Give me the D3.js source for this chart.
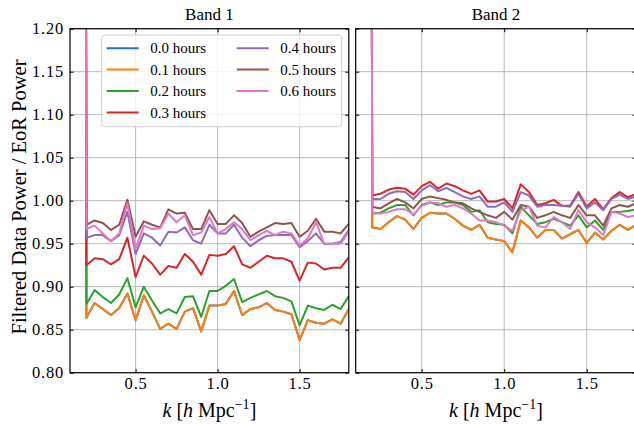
<!DOCTYPE html>
<html><head><meta charset="utf-8">
<script src="https://cdn.jsdelivr.net/npm/d3@7"></script>
<style>
html,body{margin:0;padding:0;background:#fff;}
svg{display:block;font-family:"Liberation Serif","Times New Roman",serif;}
</style></head>
<body>
<svg id="chart" width="634" height="424"></svg>
<script>
// ---------- data ----------
const kValues = [0.2,0.25,0.3,0.35,0.4,0.45,0.5,0.55,0.6,0.65,0.7,0.75,0.8,0.85,0.9,0.95,
  1.0,1.05,1.1,1.15,1.2,1.25,1.3,1.35,1.4,1.45,1.5,1.55,1.6,1.65,1.7,1.75,1.8];
// first (off-scale) point of every series
const spikeK = 0.195;
const spikeValue = 1.6;

const seriesLabels = ["0.0 hours","0.1 hours","0.2 hours","0.3 hours","0.4 hours","0.5 hours","0.6 hours"];
const seriesColors = ["#1f77b4","#ff7f0e","#2ca02c","#d62728","#9467bd","#8c564b","#e377c2"];

// Band 1
const band1_h00 = [0.864,0.881,0.874,0.867,0.875,0.892,0.861,0.890,0.871,0.851,0.857,0.851,0.871,0.875,0.848,0.878,
  0.878,0.880,0.895,0.867,0.874,0.876,0.881,0.873,0.871,0.868,0.838,0.861,0.858,0.857,0.862,0.857,0.874];
const band1_h01 = [0.864,0.881,0.874,0.867,0.875,0.892,0.861,0.890,0.871,0.851,0.857,0.851,0.871,0.875,0.848,0.878,
  0.878,0.880,0.895,0.867,0.874,0.876,0.881,0.873,0.871,0.868,0.838,0.861,0.858,0.857,0.862,0.857,0.874];
const band1_h02 = [0.880,0.896,0.888,0.881,0.891,0.910,0.876,0.900,0.884,0.869,0.874,0.869,0.888,0.889,0.865,0.895,
  0.895,0.901,0.909,0.882,0.887,0.891,0.895,0.889,0.887,0.883,0.855,0.878,0.875,0.873,0.879,0.874,0.889];
const band1_h03 = [0.925,0.933,0.932,0.926,0.932,0.957,0.911,0.936,0.927,0.914,0.924,0.922,0.938,0.929,0.914,0.937,
  0.936,0.938,0.947,0.926,0.922,0.929,0.936,0.933,0.933,0.929,0.907,0.928,0.927,0.920,0.922,0.922,0.934];
const band1_h04 = [0.957,0.960,0.960,0.953,0.960,0.987,0.938,0.962,0.957,0.948,0.964,0.963,0.969,0.954,0.950,0.972,
  0.962,0.962,0.972,0.957,0.947,0.954,0.959,0.960,0.960,0.960,0.946,0.953,0.962,0.950,0.950,0.952,0.966];
const band1_h05 = [0.972,0.977,0.974,0.966,0.972,1.001,0.958,0.976,0.972,0.969,0.990,0.985,0.986,0.967,0.967,0.989,
  0.973,0.973,0.983,0.974,0.958,0.964,0.969,0.974,0.973,0.974,0.958,0.965,0.979,0.964,0.964,0.962,0.973];
const band1_h06 = [0.967,0.971,0.962,0.953,0.962,0.997,0.944,0.971,0.967,0.968,0.985,0.975,0.983,0.960,0.963,0.981,
  0.962,0.967,0.975,0.967,0.954,0.960,0.965,0.960,0.964,0.962,0.948,0.956,0.975,0.950,0.950,0.950,0.964];

// Band 2
const band2_h00 = [0.969,0.967,0.975,0.982,0.978,0.967,0.980,0.986,0.985,0.985,0.979,0.971,0.966,0.972,0.957,0.955,
  0.953,0.940,0.977,0.969,0.957,0.966,0.966,0.956,0.961,0.966,0.951,0.963,0.955,0.965,0.972,0.966,0.972];
const band2_h01 = [0.969,0.967,0.975,0.982,0.978,0.967,0.980,0.986,0.985,0.985,0.979,0.971,0.966,0.972,0.957,0.955,
  0.953,0.940,0.977,0.969,0.957,0.966,0.966,0.956,0.961,0.966,0.951,0.963,0.955,0.965,0.972,0.966,0.972];
const band2_h02 = [0.985,0.986,0.991,0.995,0.995,0.983,0.995,0.998,0.995,0.998,0.998,0.995,0.987,0.989,0.975,0.973,
  0.972,0.962,0.993,0.983,0.973,0.975,0.979,0.975,0.971,0.983,0.969,0.977,0.966,0.987,0.987,0.988,0.990];
const band2_h03 = [1.006,1.008,1.013,1.015,1.014,1.007,1.017,1.022,1.014,1.020,1.017,1.012,1.008,1.012,0.999,0.999,
  1.002,0.991,1.019,1.010,0.995,0.997,1.001,0.994,0.994,1.010,0.993,1.002,0.990,1.003,1.010,1.004,1.008];
const band2_h04 = [1.002,1.002,1.008,1.011,1.010,1.002,1.012,1.018,1.011,1.015,1.010,1.005,1.002,1.005,0.993,0.993,
  0.998,0.987,1.010,1.006,0.993,0.995,0.995,0.994,0.993,1.008,0.991,0.998,0.989,1.002,1.007,1.002,1.005];
const band2_h05 = [0.993,0.991,0.997,1.002,0.998,0.991,1.002,1.005,1.003,1.001,0.998,0.997,0.991,0.987,0.983,0.980,
  0.987,0.978,0.995,0.993,0.980,0.983,0.987,0.983,0.980,0.995,0.983,0.983,0.971,0.991,0.995,0.993,0.997];
const band2_h06 = [0.985,0.985,0.987,0.990,0.990,0.984,0.994,0.998,0.997,0.993,0.995,0.991,0.985,0.977,0.977,0.975,
  0.971,0.965,0.989,0.993,0.971,0.969,0.981,0.975,0.967,0.989,0.975,0.969,0.960,0.987,0.985,0.981,0.983];

const xTicks = [0.5,1.0,1.5];
const yTicks = [0.80,0.85,0.90,0.95,1.00,1.05,1.10,1.15,1.20];
const panelTitles = ["Band 1","Band 2"];

// ---------- drawing ----------
(function(){
const bands = [
  [band1_h00,band1_h01,band1_h02,band1_h03,band1_h04,band1_h05,band1_h06],
  [band2_h00,band2_h01,band2_h02,band2_h03,band2_h04,band2_h05,band2_h06]
];
const svg = d3.select("#chart");
const yTop = 28.7, yBottom = 372.7;
const y = d3.scaleLinear().domain([0.8,1.2]).range([yBottom, yTop]);
const panels = [
  {x: d3.scaleLinear().domain([0.1,1.8]).range([70,348.8])},
  {x: d3.scaleLinear().domain([0.1,1.8]).range([355.7,636.2])}
];
const tickLen = 3.5;

panels.forEach((p, pi) => {
  const x = p.x;
  const [x0, x1] = x.range();
  const g = svg.append("g");
  const clipId = "clip" + pi;
  svg.append("clipPath").attr("id", clipId).append("rect")
    .attr("x", x0).attr("y", yTop).attr("width", x1 - x0).attr("height", yBottom - yTop);

  // grid
  g.append("g").selectAll("line").data(xTicks).join("line")
    .attr("x1", d => x(d)).attr("x2", d => x(d)).attr("y1", yTop).attr("y2", yBottom)
    .attr("stroke", "#b0b0b0").attr("stroke-width", 0.9);
  g.append("g").selectAll("line").data(yTicks).join("line")
    .attr("x1", x0).attr("x2", x1).attr("y1", d => y(d)).attr("y2", d => y(d))
    .attr("stroke", "#b0b0b0").attr("stroke-width", 0.9);

  // series
  const line = d3.line().x(d => x(d[0])).y(d => y(d[1]));
  const lg = g.append("g").attr("clip-path", `url(#${clipId})`);
  bands[pi].forEach((vals, si) => {
    const pts = [[spikeK, spikeValue]].concat(kValues.map((k, i) => [k, vals[i]]));
    lg.append("path").datum(pts).attr("d", line)
      .attr("fill", "none").attr("stroke", seriesColors[si])
      .attr("stroke-width", 2).attr("stroke-linejoin", "round").attr("stroke-linecap", "butt");
  });

  // axes (ticks inward on all sides)
  const fmtX = d3.format(".1f"), fmtY = d3.format(".2f");
  const axB = g.append("g").attr("transform", `translate(0,${yBottom})`)
    .call(d3.axisBottom(x).tickValues(xTicks).tickSize(-tickLen).tickPadding(5).tickFormat(fmtX));
  const axT = g.append("g").attr("transform", `translate(0,${yTop})`)
    .call(d3.axisTop(x).tickValues(xTicks).tickSize(-tickLen).tickFormat(""));
  const axL = g.append("g").attr("transform", `translate(${x0},0)`)
    .call(d3.axisLeft(y).tickValues(yTicks).tickSize(-tickLen).tickPadding(6).tickFormat(pi === 0 ? fmtY : ""));
  const axR = g.append("g").attr("transform", `translate(${x1},0)`)
    .call(d3.axisRight(y).tickValues(yTicks).tickSize(-tickLen).tickFormat(""));
  [axB, axT, axL, axR].forEach(a => {
    a.select(".domain").remove();
    a.selectAll("line").attr("stroke", "#000").attr("stroke-width", 1);
    a.selectAll("text").attr("font-family", "Liberation Serif, serif").attr("font-size", 16.5)
      .attr("letter-spacing", 0.8).attr("fill", "#000");
  });
  // frame
  g.append("rect").attr("x", x0).attr("y", yTop).attr("width", x1 - x0).attr("height", yBottom - yTop)
    .attr("fill", "none").attr("stroke", "#000").attr("stroke-width", 1.2);

  // title
  g.append("text").attr("x", (x0 + x1) / 2).attr("y", 20)
    .attr("text-anchor", "middle").attr("font-size", 17).text(panelTitles[pi]);

  // x label
  const xl = g.append("text").attr("x", (x0 + x1) / 2).attr("y", 417)
    .attr("text-anchor", "middle").attr("font-size", 20);
  xl.append("tspan").attr("font-style", "italic").text("k");
  xl.append("tspan").text(" [");
  xl.append("tspan").attr("font-style", "italic").text("h");
  xl.append("tspan").text(" Mpc");
  xl.append("tspan").attr("font-size", 14).attr("dy", -8).text("\u22121");
  xl.append("tspan").attr("dy", 8).text("]");
});

// y label
svg.append("text").attr("transform", "translate(26,197) rotate(-90)")
  .attr("text-anchor", "middle").attr("font-size", 20.5)
  .text("Filtered Data Power / EoR Power");

// legend
const leg = svg.append("g");
leg.append("rect").attr("x", 101.7).attr("y", 35).attr("width", 240).attr("height", 91.7)
  .attr("rx", 3).attr("fill", "#fff").attr("fill-opacity", 0.8)
  .attr("stroke", "#d0d0d0").attr("stroke-width", 1);
const rowY = [48.3, 69.6, 91, 112.5];
const colX = [106.7, 236.7];
seriesLabels.forEach((lab, i) => {
  const c = i < 4 ? 0 : 1, r = i < 4 ? i : i - 4;
  leg.append("line").attr("x1", colX[c]).attr("x2", colX[c] + 32)
    .attr("y1", rowY[r]).attr("y2", rowY[r])
    .attr("stroke", seriesColors[i]).attr("stroke-width", 2);
  leg.append("text").attr("x", colX[c] + 43.5).attr("y", rowY[r] + 5)
    .attr("font-size", 15).text(lab);
});
})();
</script>
</body></html>
